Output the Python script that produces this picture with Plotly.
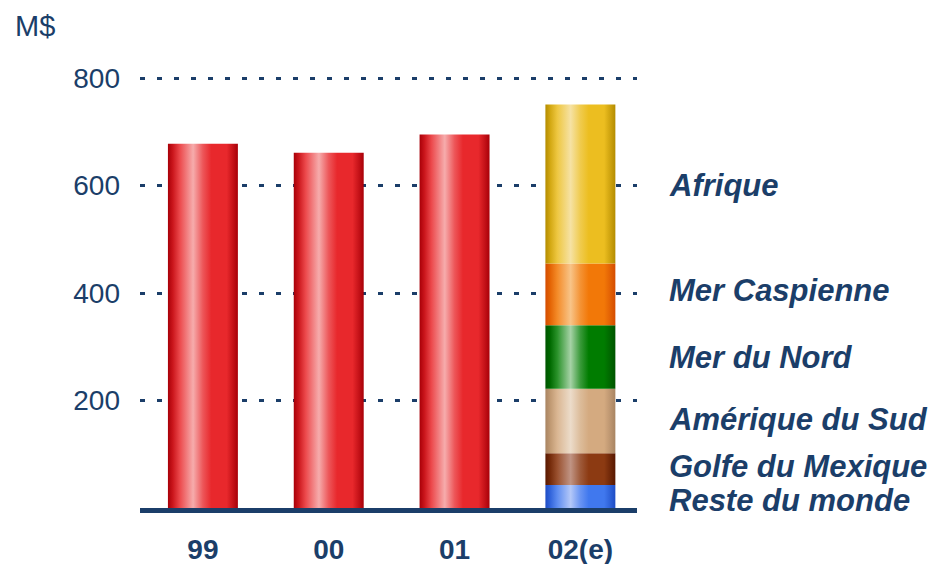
import plotly.graph_objects as go

# ---- data ----
years = ["99", "00", "01", "02(e)"]
totals = [678, 661, 695]                      # single-colour bars for 99..01
regions = ["Reste du monde", "Golfe du Mexique", "Amérique du Sud",
           "Mer du Nord", "Mer Caspienne", "Afrique"]
region_values = [43, 59, 120, 118, 115, 296]  # 2002 estimate by region
y_ticks = [200, 400, 600, 800]

NAVY = "#1b3e69"
FONT = "Liberation Sans, Arial, sans-serif"

# plot frame in pixels
W, H = 942, 564
ML, MR, MT, MB = 140, 305, 62, 56
PW, PH = W - ML - MR, H - MT - MB

# cylinder-like shading: (edge, body, highlight)
palette = {
    "red": ("#a80008", "#e8282c", "#f6acac"),
    "Afrique": ("#b48c00", "#ecbe20", "#f6e2a4"),
    "Mer Caspienne": ("#d44c00", "#f27808", "#f8c488"),
    "Mer du Nord": ("#005400", "#007c00", "#a6d2a6"),
    "Amérique du Sud": ("#a88462", "#d4aa80", "#ecdcca"),
    "Golfe du Mexique": ("#581800", "#8c3a12", "#c09484"),
    "Reste du monde": ("#1e4cc4", "#4078ee", "#b4c8f8"),
}


def _hex(c):
    c = c.lstrip("#")
    return [int(c[i:i + 2], 16) for i in (0, 2, 4)]


def _mix(a, b, t):
    a, b = _hex(a), _hex(b)
    return "rgb(%d,%d,%d)" % tuple(round(a[i] + (b[i] - a[i]) * t) for i in range(3))


def shading(edge, body, hi):
    return [
        [0.00, _mix(edge, edge, 0)],
        [0.07, _mix(edge, body, 0.55)],
        [0.17, _mix(body, hi, 0.25)],
        [0.36, _mix(hi, hi, 0)],
        [0.50, _mix(body, hi, 0.35)],
        [0.62, _mix(body, body, 0)],
        [0.84, _mix(body, body, 0)],
        [0.93, _mix(edge, body, 0.45)],
        [1.00, _mix(edge, edge, 0)],
    ]


HALF_W = 0.278
fig = go.Figure()


def add_bar(xc, y0, y1, key):
    xs = [xc - HALF_W, xc + HALF_W, xc + HALF_W, xc - HALF_W, xc - HALF_W]
    ys = [y0, y0, y1, y1, y0]
    fig.add_trace(go.Scatter(
        x=xs, y=ys, mode="none", fill="toself",
        fillgradient=dict(type="horizontal", colorscale=shading(*palette[key])),
        hoverinfo="skip", showlegend=False))


for i, v in enumerate(totals):
    add_bar(i, 0, v, "red")

Y_MAX = 830
base = 0
label_pos = []
for name, v in zip(regions, region_values):
    add_bar(3, base, base + v, name)
    label_pos.append(base + v / 2)
    base += v

# region labels beside the stacked bar (paper coords, aligned to segment middles)
shift = {"Afrique": -2, "Mer Caspienne": 4, "Mer du Nord": 0,
         "Amérique du Sud": 1, "Golfe du Mexique": 3, "Reste du monde": -4}
for name, yc in zip(regions, label_pos):
    fig.add_annotation(
        x=(667 - ML) / PW, y=yc / Y_MAX, xref="paper", yref="paper",
        text=name, showarrow=False,
        xanchor="left", yanchor="middle", yshift=shift[name],
        font=dict(family=FONT, size=31, color=NAVY, weight="bold", style="italic"))

# unit label, top-left
fig.add_annotation(
    x=(13 - ML) / PW, y=1 + (MT - 26) / PH, xref="paper", yref="paper",
    text="M$", showarrow=False, xanchor="left", yanchor="middle",
    font=dict(family=FONT, size=29, color=NAVY))

fig.update_layout(
    width=W, height=H,
    margin=dict(l=ML, r=MR, t=MT, b=MB, autoexpand=False),
    plot_bgcolor="white", paper_bgcolor="white",
    xaxis=dict(
        range=[-0.5, 3.45], tickvals=list(range(len(years))), ticktext=years,
        showgrid=False, zeroline=False, showline=True, linewidth=5, linecolor=NAVY,
        ticks="", ticklabelstandoff=12, automargin=False,
        tickfont=dict(family=FONT, size=28, color=NAVY, weight="bold"),
        fixedrange=True),
    yaxis=dict(
        range=[0, Y_MAX], tickvals=y_ticks, showgrid=True, gridcolor=NAVY,
        gridwidth=2.5, griddash="5px,12px", zeroline=False, showline=False,
        ticks="", ticklabelstandoff=19, automargin=False,
        tickfont=dict(family=FONT, size=28, color=NAVY), fixedrange=True),
)

fig.write_html("out.html")
